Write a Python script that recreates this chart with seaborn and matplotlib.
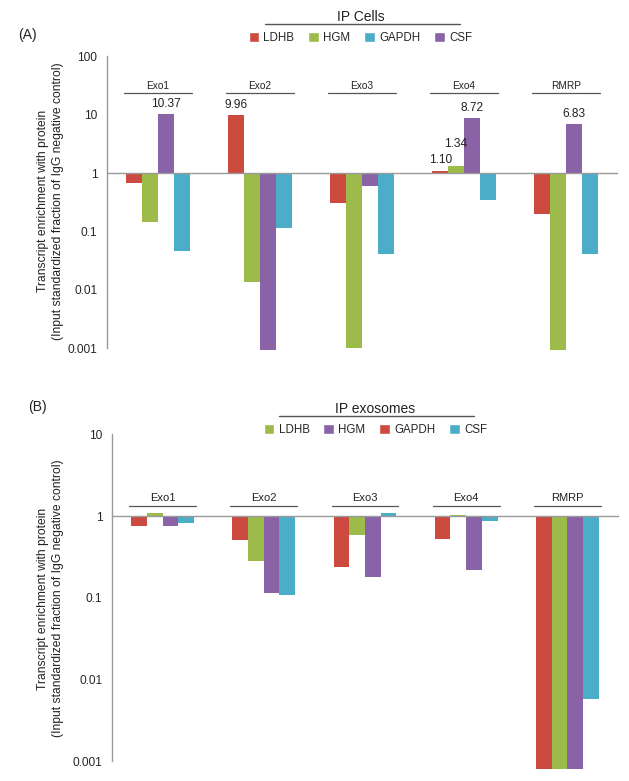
import numpy as np
import pandas as pd
import seaborn as sns
import matplotlib.pyplot as plt
from matplotlib.patches import Patch
from matplotlib.lines import Line2D

groups = ["Exo1", "Exo2", "Exo3", "Exo4", "RMRP"]

# (A) IP Cells - bars are drawn in this order inside each group
cells_genes = ["LDHB", "HGM", "CSF", "GAPDH"]
cells_ldhb = [0.67, 9.96, 0.31, 1.10, 0.196]
cells_hgm = [0.143, 0.0134, 0.00099, 1.34, 0.00092]
cells_csf = [10.37, 0.00095, 0.61, 8.72, 6.83]
cells_gapdh = [0.046, 0.113, 0.041, 0.345, 0.041]
cells_legend = ["LDHB", "HGM", "GAPDH", "CSF"]

# (B) IP exosomes
exo_genes = ["GAPDH", "LDHB", "HGM", "CSF"]
exo_gapdh = [0.75, 0.51, 0.24, 0.52, 0.0008]
exo_ldhb = [1.08, 0.28, 0.58, 1.04, 0.0008]
exo_hgm = [0.76, 0.113, 0.18, 0.22, 0.0008]
exo_csf = [0.83, 0.109, 1.08, 0.86, 0.0058]
exo_legend = ["LDHB", "HGM", "GAPDH", "CSF"]

red, green, purple, cyan = "#cc4a40", "#9dbb4a", "#8a62a6", "#4cadc8"
cells_colors = {"LDHB": red, "HGM": green, "CSF": purple, "GAPDH": cyan}
exo_colors = {"GAPDH": red, "LDHB": green, "HGM": purple, "CSF": cyan}

ylabel = "Transcript enrichment with protein\n(Input standardized fraction of IgG negative control)"


def long_table(genes, values):
    rows = []
    for gene, vals in zip(genes, values):
        for g, v in zip(groups, vals):
            rows.append({"group": g, "gene": gene, "value": v, "logv": np.log10(v)})
    return pd.DataFrame(rows)


def draw_panel(ax, df, genes, colors, ylo, yhi, name_y, name_size, label_x):
    sns.barplot(data=df, x="group", y="logv", hue="gene", order=groups,
                hue_order=genes, palette=colors, width=0.62, saturation=1,
                linewidth=0, errorbar=None, legend=False, ax=ax)
    ax.set_xlim(-0.5, 4.5)
    ax.set_ylim(ylo, yhi)
    ticks = list(range(-3, yhi + 1))
    ax.set_yticks(ticks)
    ax.set_yticklabels([f"{10.0 ** k:g}" for k in ticks])
    ax.set_xticks(np.arange(-0.5, 5, 1))
    ax.set_xticklabels([])
    ax.set_xlabel("")
    ax.set_ylabel(ylabel, fontsize=8.7, linespacing=1.35, color="#222")
    ax.yaxis.set_label_coords(label_x, 0.51)
    for s in ["top", "right"]:
        ax.spines[s].set_visible(False)
    ax.spines["left"].set_bounds(-3, yhi)
    ax.spines["bottom"].set_position(("data", 0))
    for s in ["left", "bottom"]:
        ax.spines[s].set_color("#9a9a9a")
        ax.spines[s].set_linewidth(1)
    ax.tick_params(axis="y", length=3, color="#9a9a9a", labelsize=8.6, pad=4)
    ax.tick_params(axis="x", length=3, color="#9a9a9a", direction="out")
    # group names with a line under them
    for i, g in enumerate(groups):
        ax.plot([i - 0.33, i + 0.33], [name_y, name_y], color="#555", lw=0.9,
                clip_on=False)
        ax.text(i, name_y + 0.04, g, ha="center", va="bottom",
                fontsize=name_size, color="#222")


def header(title, x, y_title, line_x, y_line, y_leg, handles):
    fig.text(x, y_title, title, ha="center", va="center", fontsize=10, color="#222")
    fig.add_artist(Line2D(line_x, [y_line, y_line], color="#555", lw=1))
    fig.legend(handles=handles, loc="center", bbox_to_anchor=(x, y_leg), ncol=4,
               frameon=False, fontsize=8.3, handlelength=0.9, handleheight=0.9,
               handletextpad=0.4, columnspacing=1.2, borderpad=0, borderaxespad=0)


sns.set_theme(style="white")
plt.rcParams["font.family"] = ["Liberation Sans", "DejaVu Sans"]

fig = plt.figure(figsize=(6.29, 7.81), dpi=100)

# panel A
ax1 = fig.add_axes([0.1701, 0.5504, 0.8108, 0.3776])
cells = long_table(cells_genes, [cells_ldhb, cells_hgm, cells_csf, cells_gapdh])
draw_panel(ax1, cells, cells_genes, cells_colors, -3.05, 2, 1.373, 7.3, -0.084)
for cont, gene in zip(ax1.containers, cells_genes):
    vals = cells[cells.gene == gene].value.tolist()
    labs = [f"{v:.2f}" if v > 1 else "" for v in vals]
    ax1.bar_label(cont, labels=labs, padding=11.5 if gene == "HGM" else 3,
                  fontsize=8.6, color="#222")

header("IP Cells", 0.573, 0.978, [0.4213, 0.7313], 0.9693, 1 - 38 / 781,
       [Patch(facecolor=cells_colors[g], label=g) for g in cells_legend])
fig.text(0.0286, 0.955, "(A)", ha="left", va="center", fontsize=10, color="#222")

# panel B
ax2 = fig.add_axes([0.178, 0.015, 0.8045, 0.4287])
exo = long_table(exo_genes, [exo_gapdh, exo_ldhb, exo_hgm, exo_csf])
draw_panel(ax2, exo, exo_genes, exo_colors, -3.1, 1, 0.126, 8.0, -0.095)

header("IP exosomes", 0.597, 0.4763, [0.4436, 0.7536], 0.4674, 0.4494,
       [Patch(facecolor=exo_colors[g], label=g) for g in exo_legend])
fig.text(0.0445, 0.479, "(B)", ha="left", va="center", fontsize=10, color="#222")

fig.savefig("out.png", dpi=100)
